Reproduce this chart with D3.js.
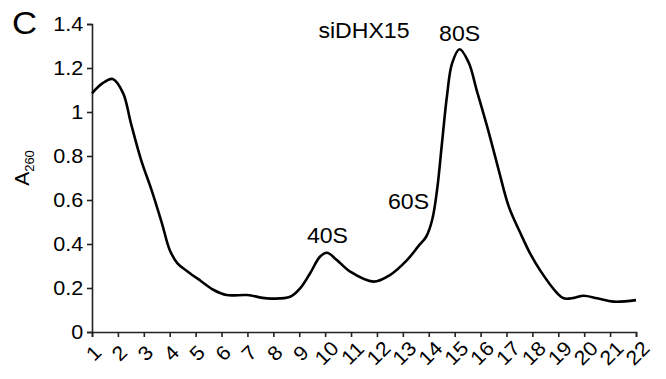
<!DOCTYPE html>
<html><head><meta charset="utf-8">
<script src="https://cdn.jsdelivr.net/npm/d3@7"></script>
<style>body{margin:0;background:#fff;}svg{display:block;font-family:Arial,"Liberation Sans",sans-serif;}</style>
</head><body>
<svg id="c" width="666" height="379"></svg>
<script>
const fractionTicks = [1,2,3,4,5,6,7,8,9,10,11,12,13,14,15,16,17,18,19,20,21,22];
const yTicks = [0,0.2,0.4,0.6,0.8,1,1.2,1.4];
const fractionPos = [1.0,1.4,1.8,2.2,2.5,2.9,3.3,3.7,4.0,4.3,4.7,5.2,5.7,6.2,7.0,7.75,8.65,9.04,9.42,9.8,10.07,10.45,10.97,11.87,12.5,13.16,13.6,13.9,14.13,14.32,14.51,14.7,14.9,15.19,15.54,15.86,16.31,16.7,17.09,17.54,17.9,18.3,18.96,19.21,19.6,19.98,20.5,21.14,22.0];
const a260 = [1.085,1.13,1.15,1.086,0.95,0.78,0.645,0.494,0.373,0.312,0.274,0.232,0.191,0.168,0.168,0.153,0.16,0.199,0.267,0.342,0.36,0.327,0.274,0.229,0.259,0.327,0.39,0.433,0.509,0.645,0.858,1.07,1.221,1.285,1.225,1.095,0.91,0.736,0.57,0.449,0.36,0.28,0.176,0.153,0.155,0.165,0.153,0.138,0.145];
const annotationText = ["siDHX15","80S","60S","40S"];
const annotationX = [11.5,15.19,13.22,10.09];
const annotationY = [1.336,1.324,0.558,0.406];

const svg = d3.select("#c");
const x = d3.scaleLinear().domain([1,22]).range([92,636]);
const y = d3.scaleLinear().domain([0,1.4]).range([332,24]);
const FONT = "Arial, 'Liberation Sans', sans-serif";

// y axis
const ya = svg.append("g").attr("transform","translate(92,0)")
  .call(d3.axisLeft(y).tickValues(yTicks).tickSize(5).tickPadding(3).tickFormat(d3.format("~g")));
// x axis
const xa = svg.append("g").attr("transform","translate(0,332)")
  .call(d3.axisBottom(x).tickValues(fractionTicks).tickSize(5).tickFormat(d=>d));
[ya,xa].forEach(g=>{
  g.select(".domain").attr("stroke","#222").attr("stroke-width",1.6);
  g.selectAll(".tick line").attr("stroke","#222").attr("stroke-width",1.6);
  g.selectAll("text").attr("fill","#000").attr("font-size",20).attr("font-family",FONT);
});
ya.selectAll(".tick text").attr("transform","scale(1.08,1)");
xa.selectAll(".tick text")
  .attr("text-anchor","middle").attr("y",null).attr("dy","0.35em")
  .attr("transform","translate(1,21) rotate(-45) scale(1.08,1)");

// curve
const line = d3.line().x((d,i)=>x(fractionPos[i])).y(d=>y(d)).curve(d3.curveCatmullRom.alpha(0.5));
svg.append("path").datum(a260)
  .attr("fill","none").attr("stroke","#000").attr("stroke-width",2.6)
  .attr("stroke-linejoin","round").attr("d", line);

// annotations
svg.selectAll("text.ann").data(annotationText).enter().append("text")
  .attr("class","ann")
  .attr("transform",(d,i)=>`translate(${x(annotationX[i])},${y(annotationY[i])}) scale(1.05,1)`)
  .attr("text-anchor","middle").attr("font-size",22).attr("fill","#000").text(d=>d);

// panel letter
svg.append("text").attr("transform","translate(12,34) scale(1.12,1)").attr("font-size",31).attr("fill","#000").text("C");

// y label
const yl = svg.append("text").attr("transform","translate(29,168) rotate(-90)")
  .attr("text-anchor","middle").attr("font-size",21).attr("fill","#000");
yl.append("tspan").text("A");
yl.append("tspan").attr("font-size",13).attr("dy",5).text("260");
</script>
</body></html>
